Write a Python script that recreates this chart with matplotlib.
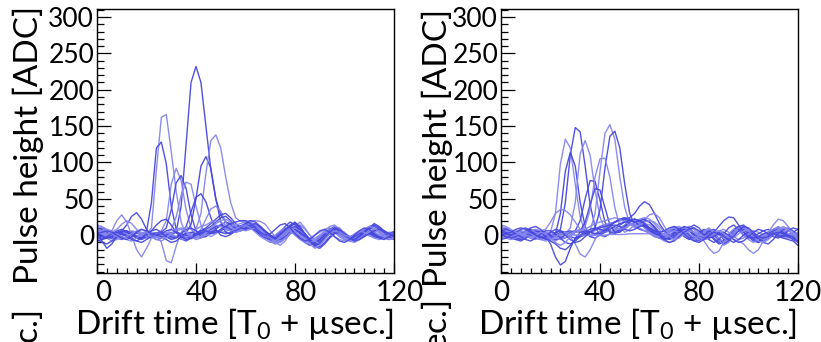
import matplotlib
matplotlib.use("Agg")
import matplotlib.pyplot as plt
from matplotlib.ticker import MultipleLocator
from matplotlib.transforms import ScaledTranslation

plt.rcParams['font.family'] = ['Lato', 'DejaVu Sans']
plt.rcParams['mathtext.fontset'] = 'custom'
plt.rcParams['mathtext.rm'] = 'Lato'
plt.rcParams['mathtext.it'] = 'Lato:italic'

# drift time samples, every 2 usec
time_us = list(range(0, 121, 2))

# left panel waveforms (ADC)
left_traces = [
    [8, 5, 2, 0, -3, -2, 2, 5, 3, 0, -2, -1, 2, 3, 1, 0, 5, 40, 125, 210, 232, 210, 150, 90, 50, 28, 18, 14, 12, 13, 15, 16, 14, 10, 5, 0, -6, -8, -4, 2, 6, 4, -2, -8, -10, -6, 0, 5, 6, 3, -2, -6, -5, 0, 4, 6, 4, 0, -3, -1, 2],
    [5, 3, -2, -5, -3, 2, 4, 2, -1, -2, 2, 10, 90, 162, 166, 115, 60, 18, 0, -5, -3, 2, 6, 8, 6, 4, 5, 8, 10, 12, 14, 12, 8, 3, -2, -8, -12, -8, 0, 6, 10, 6, 0, -5, -8, -4, 2, 6, 4, 0, -4, -6, -2, 2, 6, 10, 8, 3, -2, -4, -1],
    [10, 8, 4, 0, -4, -6, -3, 1, 3, 2, 5, 45, 120, 128, 98, 40, 8, -5, -8, -4, 0, 3, 4, 2, 3, 6, 10, 12, 10, 8, 9, 10, 8, 5, 0, -5, -4, 2, 8, 12, 8, 2, -4, -10, -14, -10, -2, 4, 8, 6, 0, -4, -3, 1, 3, 2, 0, -2, 0, 3, 5],
    [3, 1, -4, -8, -6, -1, 3, 6, 4, 1, -1, 0, 3, 6, 20, 70, 92, 75, 35, 10, -2, -4, 0, 5, 10, 12, 10, 6, 4, 6, 10, 14, 12, 6, 0, -6, -10, -6, 2, 8, 4, -2, -6, -4, 0, 4, 8, 10, 5, -2, -6, -4, 0, 4, 2, -1, -3, -1, 2, 4, 2],
    [-2, -4, -2, 2, 6, 8, 5, 0, -4, -6, -3, 0, 2, 4, 10, 35, 72, 82, 64, 28, 6, -3, -2, 3, 8, 14, 18, 16, 10, 6, 8, 12, 14, 10, 4, -2, -6, -2, 4, 6, 2, -4, -10, -14, -10, -2, 4, 8, 6, 2, -2, -4, -4, -2, 2, 8, 12, 8, 2, -2, -3],
    [6, 4, 0, -3, -2, 1, 2, 0, -2, -1, 2, 4, 3, 1, 2, 8, 25, 55, 73, 70, 40, 14, 2, -2, 2, 8, 12, 10, 8, 10, 16, 18, 14, 8, 2, -4, -8, -10, -5, 2, 10, 14, 8, 0, -6, -8, -4, 2, 6, 8, 4, -2, -6, -4, 0, 4, 6, 4, 0, -2, 0],
    [2, 0, -3, -4, 0, 4, 6, 3, -2, -4, -2, 1, 3, 2, 0, -2, -3, -1, 3, 15, 50, 95, 108, 92, 50, 18, 4, 2, 6, 12, 16, 14, 9, 4, -1, -4, -2, 4, 12, 18, 14, 6, -2, -8, -12, -8, 0, 6, 10, 6, 0, -4, -2, 2, 4, 2, -2, -4, -2, 2, 4],
    [4, 2, -1, -2, 0, 3, 4, 2, 0, -3, -4, -2, 1, 3, 2, 0, -2, -3, -1, 2, 8, 30, 85, 130, 138, 120, 80, 45, 24, 19, 19, 20, 20, 19, 15, 6, -2, -6, -4, 2, 8, 6, 0, -6, -12, -10, -3, 3, 5, 2, -3, -8, -10, -6, 0, 6, 8, 5, 0, -3, -2],
    [-4, -6, -4, 0, 4, 6, 4, 0, -3, -4, -2, 1, 2, 0, -3, -4, -2, 2, 12, 32, 52, 57, 46, 24, 8, 0, -2, 1, 6, 10, 12, 10, 6, 2, -2, -6, -8, -4, 4, 12, 16, 10, 2, -6, -10, -6, 2, 8, 12, 8, 2, -3, -6, -4, 0, 3, 2, -1, -4, -6, -4],
    [8, 6, 2, -1, -4, -5, -2, 2, 5, 4, 1, -2, -3, -1, 2, 4, 3, 0, -2, -1, 2, 8, 22, 36, 40, 33, 18, 8, 4, 6, 10, 12, 10, 6, 2, -2, 0, 6, 10, 6, 0, -6, -10, -12, -8, -2, 4, 8, 4, -2, -6, -8, -4, 2, 8, 12, 14, 10, 4, 0, -2],
    [0, -2, -4, -2, 2, 6, 14, 26, 31, 22, 8, -2, -6, -4, 0, 3, 4, 2, 0, -1, 2, 6, 10, 16, 22, 28, 30, 24, 16, 10, 8, 10, 12, 10, 5, 0, -4, -6, -2, 4, 8, 4, -2, -8, -12, -10, -4, 2, 6, 4, 0, -2, 0, 4, 6, 4, 0, -3, -4, -2, 1],
    [5, 2, -2, 6, 20, 28, 18, 0, -20, -30, -18, -4, 2, -10, -35, -38, -15, 4, 12, 8, 2, -2, 0, 6, 12, 14, 10, 6, 4, 8, 12, 16, 14, 8, 2, -4, -10, -14, -8, 2, 12, 18, 10, 0, -8, -12, -6, 4, 12, 10, 2, -4, -8, -6, -2, 4, 8, 6, 2, -2, -4],
    [6, -8, -18, -12, -2, 4, 6, 2, -2, -4, 0, 6, 14, 20, 22, 14, 4, -2, -4, -2, 2, 6, 8, 12, 18, 24, 26, 20, 12, 8, 10, 14, 16, 12, 6, 0, -4, -2, 4, 10, 12, 8, 2, -6, -14, -16, -10, -2, 4, 6, 2, -2, -2, 2, 6, 10, 16, 12, 6, 2, 0],
    [12, 10, 6, 4, 8, 15, 20, 16, 8, 2, -2, -4, -2, 2, 4, 2, -2, -6, -4, 2, 8, 12, 14, 18, 20, 18, 14, 12, 14, 16, 18, 16, 10, 4, -2, -8, -12, -10, -4, 2, 4, 0, -4, -6, -4, 0, 6, 12, 14, 8, 0, -6, -8, -4, 2, 6, 4, 0, -2, 0, 4],
    [-6, -10, -12, -8, -2, 2, 0, -4, -8, -10, -6, -2, 0, -2, -6, -10, -8, -2, 2, 4, 2, 0, 2, 4, 6, 4, 2, 4, 8, 12, 14, 12, 6, 0, -4, -6, -4, 0, 6, 12, 16, 10, 2, -6, -16, -18, -12, -4, 2, 4, 0, -4, -6, -2, 4, 10, 14, 10, 4, -2, -6],
    [4, 6, 8, 6, 2, -2, -6, -8, -4, 2, 4, 2, -2, -4, -2, 2, 6, 8, 4, -2, -6, -4, 2, 10, 16, 20, 22, 18, 12, 8, 6, 8, 10, 8, 2, -4, -8, -4, 4, 10, 6, -2, -8, -10, -6, 0, 4, 2, -2, -6, -8, -4, 2, 6, 4, 0, -4, -6, -4, 0, 2],
    [-8, -6, -2, 2, 4, 2, -2, -6, -8, -4, 2, 6, 8, 4, -2, -6, -4, 2, 8, 10, 6, 2, 4, 8, 12, 14, 12, 8, 6, 10, 16, 20, 18, 12, 4, -2, -4, 0, 8, 14, 18, 12, 2, -8, -14, -12, -4, 4, 10, 8, 2, -4, -8, -6, -2, 2, 6, 8, 6, 2, -2],
    [14, 12, 8, 2, -2, -4, -2, 2, 6, 8, 4, -2, -6, -8, -4, 2, 8, 10, 6, 0, -4, -2, 4, 10, 14, 12, 8, 6, 8, 12, 14, 10, 4, -2, -6, -10, -8, -2, 4, 6, 2, -2, -6, -12, -18, -14, -6, 2, 6, 4, 0, -2, 0, 4, 8, 12, 10, 4, -2, -6, -4],
    [2, 4, 6, 4, 0, -4, -6, -2, 4, 8, 6, 2, 0, 2, 6, 8, 4, -2, -6, -4, 0, 4, 6, 4, 4, 8, 12, 16, 18, 20, 20, 16, 10, 4, 0, 2, 8, 14, 16, 10, 2, -4, -8, -6, 0, 6, 8, 4, -2, -8, -10, -6, 0, 6, 10, 8, 2, -4, -6, -2, 4],
]

# right panel waveforms (ADC)
right_traces = [
    [6, 4, 0, -3, -2, 2, 4, 2, 0, -2, -1, 2, 8, 45, 110, 148, 142, 95, 42, 12, 0, -2, 2, 8, 14, 18, 16, 12, 8, 6, 4, 2, 0, -2, 0, 4, 8, 10, 6, 0, -4, -2, 2, 0, -6, -8, -2, 6, 10, 6, 0, -4, -6, -2, 4, 8, 6, 2, -2, -4, -2],
    [10, 8, 4, 0, -2, 0, 3, 5, 3, 0, 4, 30, 98, 132, 120, 70, 25, 4, -2, 0, 4, 8, 10, 8, 6, 8, 14, 18, 16, 10, 4, -2, -4, 0, 6, 10, 8, 2, -4, -8, -4, 4, 8, 4, -4, -10, -8, 0, 6, 8, 4, 0, -2, 0, 4, 6, 4, 0, -3, -2, 2],
    [2, 0, -4, -6, -4, 0, 4, 6, 4, 0, -2, 2, 30, 88, 114, 95, 45, 12, -2, -4, 0, 4, 6, 4, 8, 14, 20, 22, 18, 12, 6, 2, 0, 2, 6, 8, 4, -2, -6, -4, 2, 6, 2, -6, -12, -10, -2, 6, 12, 10, 2, -6, -10, -6, 0, 6, 10, 6, 0, -4, -6],
    [4, 2, -2, -4, -2, 2, 6, 8, 4, -2, -6, -8, -4, 2, 10, 45, 112, 130, 110, 62, 25, 8, 4, 6, 10, 14, 16, 14, 10, 6, 2, -2, -2, 2, 8, 12, 10, 4, -2, -6, -2, 4, 6, 0, -8, -12, -6, 4, 10, 8, 2, -4, -8, -4, 2, 8, 12, 8, 2, -2, 0],
    [-2, -4, -2, 2, 6, 4, 0, -4, -6, -4, 0, 4, 6, 4, 2, 6, 20, 50, 75, 74, 48, 18, 4, 2, 6, 12, 18, 20, 18, 12, 6, 0, -4, -2, 4, 8, 6, 0, -4, -2, 4, 8, 4, -4, -10, -8, 0, 8, 12, 8, 0, -6, -8, -4, 2, 6, 8, 4, 0, -2, -4],
    [8, 6, 2, -2, -4, -2, 2, 4, 2, -2, -4, -2, 2, 4, 2, 0, -2, 0, 6, 30, 88, 140, 152, 132, 80, 38, 16, 10, 12, 16, 14, 8, 2, -2, 0, 6, 10, 8, 2, -4, -6, -2, 4, 4, -4, -10, -6, 2, 8, 6, 0, -4, -4, 0, 4, 6, 4, 0, -2, 0, 4],
    [3, 1, -2, -2, 2, 6, 8, 4, -2, -6, -4, 0, 4, 2, -2, -4, -2, 2, 4, 10, 35, 92, 136, 143, 120, 70, 30, 14, 16, 20, 18, 12, 4, -2, -4, 0, 6, 10, 6, 0, -4, 0, 6, 2, -6, -12, -8, 0, 6, 4, -2, -8, -10, -6, 0, 6, 10, 6, 0, -4, -8],
    [-4, -2, 2, 6, 4, 0, -4, -6, -2, 2, 4, 2, -2, -4, 0, 4, 6, 12, 35, 80, 105, 106, 80, 38, 12, 4, 8, 14, 18, 16, 10, 4, 0, 2, 6, 10, 12, 8, 2, -2, 0, 6, 10, 4, -6, -14, -10, 0, 8, 10, 6, 0, -4, -2, 2, 4, 2, -2, -4, -2, 2],
    [6, 4, 0, -4, -6, -4, 0, 4, 6, 4, 0, -2, 0, 4, 6, 4, 6, 18, 42, 64, 62, 38, 14, 4, 4, 10, 18, 22, 20, 14, 8, 2, -4, -6, -2, 4, 8, 6, 0, -6, -8, -2, 6, 8, 2, -6, -4, 4, 12, 14, 8, 0, -6, -8, -4, 2, 6, 4, 0, -2, 0],
    [12, 10, 6, 2, 0, 2, 6, 8, 6, 8, 18, 30, 35, 34, 28, 18, 8, 2, 0, 2, 6, 10, 14, 18, 22, 24, 22, 20, 22, 24, 22, 16, 8, 0, -6, -4, 2, 8, 12, 10, 4, -2, -4, 0, 6, 8, 4, -2, -6, -4, 2, 6, 4, 0, -2, 0, 4, 8, 6, 2, -2],
    [0, -2, -4, -2, 2, 6, 10, 12, 8, 2, -4, -6, -4, 0, 4, 6, 4, 2, 4, 8, 12, 14, 16, 18, 20, 22, 24, 30, 40, 46, 42, 30, 16, 6, 0, -4, -2, 4, 10, 14, 10, 2, -6, -10, -6, 2, 10, 14, 8, 0, -4, -2, 2, 6, 8, 4, 0, -2, 0, 4, 8],
    [8, 6, 4, 2, 0, -2, -4, -2, 2, 4, 2, -2, -6, -4, 2, 6, 8, 6, 4, 6, 10, 14, 16, 18, 20, 20, 20, 20, 20, 22, 28, 30, 24, 12, 2, -4, -2, 6, 12, 8, 0, -8, -18, -25, -22, -10, 2, 8, 6, 0, -6, -10, -6, 0, 4, 8, 10, 6, 2, 0, 2],
    [4, 2, -2, -6, -8, -4, 2, 6, 4, -2, -12, -30, -41, -36, -18, -4, 4, 6, 4, 2, 4, 8, 12, 14, 12, 8, 6, 8, 12, 14, 10, 4, -2, -6, -4, 2, 8, 12, 10, 4, -2, -6, -4, 2, 4, 0, -6, -10, -6, 0, 4, 2, -4, -10, -12, -6, 2, 8, 10, 6, 0],
    [-2, -4, -6, -4, 0, 4, 6, 4, 0, -4, -6, -4, 0, 2, -2, -12, -26, -30, -20, -6, 4, 10, 12, 10, 8, 10, 14, 18, 16, 10, 4, 0, -2, 0, 4, 6, 4, 0, -4, -6, -2, 4, 8, 6, 0, -4, -2, 4, 10, 12, 6, -2, -8, -10, -6, 0, 6, 10, 8, 2, -4],
    [6, 8, 6, 2, -2, -6, -8, -4, 2, 6, 6, 2, -4, -10, -12, -8, -2, 2, 4, 2, 2, 6, 12, 18, 22, 22, 20, 18, 20, 22, 18, 10, 2, -4, -6, -2, 4, 8, 6, 2, -2, -4, -2, 4, 12, 20, 25, 24, 14, 4, -2, -4, -2, 2, 4, 2, -2, -4, -6, -8, -14],
    [2, 0, -2, 0, 4, 6, 2, -2, -6, -8, -6, -2, 2, 4, 2, 0, 0, 0, 0, 0, 0, 0, 1, 1, 1, 1, 2, 2, 2, 2, 2, 0, -4, -8, -10, -6, 0, 6, 8, 4, -2, -6, -4, 2, 6, 4, -2, -6, -8, -12, -20, -25, -20, -8, 4, 14, 22, 20, 12, 4, 0],
    [-6, -4, 0, 4, 8, 10, 6, 0, -4, -2, 4, 8, 6, 0, -6, -10, -8, -2, 4, 8, 10, 12, 14, 18, 22, 24, 22, 18, 14, 12, 10, 6, 0, -6, -10, -8, -2, 4, 8, 10, 6, 0, -4, -2, 2, 4, 0, -6, -10, -8, -2, 4, 8, 6, 2, -2, -4, 0, 6, 10, 8],
    [14, 12, 8, 4, 2, 0, -2, 0, 4, 2, -4, -10, -14, -10, -2, 4, 6, 8, 12, 16, 18, 20, 22, 24, 22, 18, 14, 12, 14, 18, 20, 18, 12, 4, -2, -6, -4, 2, 6, 4, 0, -2, 0, 4, 6, 2, -4, -4, 2, 6, 8, 4, -2, -6, -4, 2, 8, 12, 8, 0, -6],
    [0, 2, 4, 8, 10, 8, 4, 0, -2, -4, -8, -12, -18, -20, -14, -6, 0, 4, 8, 10, 8, 6, 8, 12, 16, 18, 20, 22, 20, 16, 10, 6, 4, 6, 10, 12, 8, 2, -4, -8, -10, -6, 0, 4, 2, -2, -6, -2, 6, 12, 10, 4, -2, -4, -2, 2, 4, 2, -2, -6, -10],
]

dark = '#4848df'
light = '#8686ee'

fig = plt.figure(figsize=(8.21, 3.42), dpi=100)
ax_l = fig.add_axes([97 / 821, 1 - 273 / 342, 297 / 821, 264 / 342])
ax_r = fig.add_axes([501 / 821, 1 - 273 / 342, 297 / 821, 264 / 342])

for ax, traces in [(ax_l, left_traces), (ax_r, right_traces)]:
    for i, tr in enumerate(traces):
        c = dark if i % 2 == 0 else light
        ax.plot(time_us, tr, color=c, linewidth=1.0, alpha=0.95)
    ax.set_xlim(0, 120)
    ax.set_ylim(-52, 311)
    ax.set_xticks([0, 40, 80, 120])
    ax.xaxis.set_minor_locator(MultipleLocator(4))
    ax.set_yticks([0, 50, 100, 150, 200, 250, 300])
    ax.yaxis.set_minor_locator(MultipleLocator(10))
    ax.tick_params(axis='both', which='both', direction='in', top=False, right=False, width=0.9, color='black')
    ax.tick_params(axis='y', which='major', length=10, labelsize=19, pad=2)
    ax.tick_params(axis='y', which='minor', length=5)
    ax.tick_params(axis='x', which='major', length=7, labelsize=20, pad=5)
    ax.tick_params(axis='x', which='minor', length=3.5)
    for s in ax.spines.values():
        s.set_linewidth(1.0)
        s.set_color('black')

# the 20/60/100 ticks look like major ticks in the original
for ax in (ax_l, ax_r):
    for t in ax.xaxis.get_minor_ticks():
        if round(t.get_loc()) in (20, 60, 100):
            t.tick1line.set_markersize(7)

# left panel labels sit a bit to the right
for lab in ax_l.get_xticklabels():
    lab.set_transform(lab.get_transform() + ScaledTranslation(6 / 100, 0, fig.dpi_scale_trans))

def px(x, y):
    return x / 821, 1 - y / 342

xlab = 'Drift time [T$_{\\mathregular{0}}$ + \u00b5sec.]'
ylab = 'Pulse height [ADC]'
tail = '[T$_{\\mathregular{0}}$ + \u00b5sec.]'

fig.text(*px(235, 324), xlab, fontsize=24, ha='center', va='center')
fig.text(*px(638, 324), xlab, fontsize=24, ha='center', va='center')
fig.text(*px(28, 145), ylab, fontsize=24, rotation=90, ha='center', va='center')
fig.text(*px(437, 148), ylab, fontsize=24, rotation=90, ha='center', va='center')
fig.text(*px(28, 310), tail, fontsize=24, rotation=90, ha='center', va='top')
fig.text(*px(437, 300), tail, fontsize=24, rotation=90, ha='center', va='top')

fig.savefig('out.png', dpi=100)
